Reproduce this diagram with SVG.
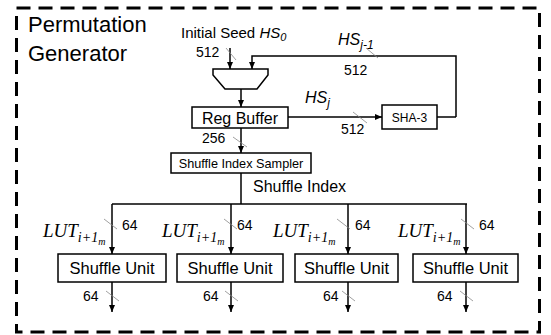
<svg xmlns="http://www.w3.org/2000/svg" width="551" height="335" viewBox="0 0 551 335">
<defs>
<marker id="ah" markerWidth="8" markerHeight="8" refX="7" refY="4" orient="auto" markerUnits="userSpaceOnUse">
<path d="M0,1 L7,4 L0,7 Z" fill="#000"/>
</marker>
<style>
.t{font-family:"Liberation Sans",Arial,sans-serif;fill:#000}
.box{fill:#fff;stroke:#000;stroke-width:1.5}
.w{fill:none;stroke:#000;stroke-width:1.5}
.a{fill:none;stroke:#000;stroke-width:1.5;marker-end:url(#ah)}
.tick{stroke:#888;stroke-width:0.8}
.m{font-family:"Liberation Serif","DejaVu Serif",serif;font-style:italic;fill:#000}
</style>
</defs>
<rect width="551" height="335" fill="#fff"/>
<rect x="16.5" y="8" width="523" height="324" fill="none" stroke="#000" stroke-width="3" stroke-dasharray="14 8"/>
<text class="t" x="28" y="32" font-size="22">Permutation</text>
<text class="t" x="28" y="61" font-size="22">Generator</text>

<g id="connectors">
<line class="a" x1="230" y1="48" x2="230" y2="69"/>
<polyline class="a" points="456,117 456,56 252,56 252,69"/>
<line class="w" x1="437" y1="117" x2="456" y2="117"/>
<line class="a" x1="241" y1="89" x2="241" y2="107"/>
<line class="a" x1="288" y1="117" x2="382" y2="117"/>
<line class="a" x1="241" y1="128" x2="241" y2="153"/>
<polyline class="w" points="241,173 241,204"/>
<line class="w" x1="112" y1="204" x2="467" y2="204"/>
<line class="a" x1="112" y1="204" x2="112" y2="254"/>
<line class="a" x1="231" y1="204" x2="231" y2="254"/>
<line class="a" x1="348" y1="204" x2="348" y2="254"/>
<line class="a" x1="466" y1="204" x2="466" y2="254"/>
<line class="a" x1="112" y1="282" x2="112" y2="312"/>
<line class="a" x1="231" y1="282" x2="231" y2="312"/>
<line class="a" x1="348" y1="282" x2="348" y2="312"/>
<line class="a" x1="466" y1="282" x2="466" y2="312"/>
<line class="tick" x1="226" y1="48" x2="236" y2="60"/>
<line class="tick" x1="366" y1="48" x2="378" y2="58"/>
<line class="tick" x1="353" y1="112" x2="367" y2="123"/>
<line class="tick" x1="233" y1="137" x2="247" y2="147"/>
<line class="tick" x1="104" y1="219" x2="117" y2="229"/>
<line class="tick" x1="224" y1="219" x2="237" y2="229"/>
<line class="tick" x1="337" y1="219" x2="350" y2="229"/>
<line class="tick" x1="461" y1="219" x2="474" y2="229"/>
<line class="tick" x1="106" y1="291" x2="119" y2="301"/>
<line class="tick" x1="225" y1="291" x2="238" y2="301"/>
<line class="tick" x1="342" y1="291" x2="355" y2="301"/>
<line class="tick" x1="460" y1="291" x2="473" y2="301"/>
</g>

<g id="labels">
<text class="t" x="181" y="38" font-size="15">Initial Seed <tspan font-style="italic">HS</tspan><tspan font-style="italic" font-size="11" dy="3">0</tspan></text>
<text class="t" x="196" y="57" font-size="14">512</text>
<text class="t" x="338" y="45" font-style="italic" font-size="16">HS<tspan font-size="12" dy="4">j-1</tspan></text>
<text class="t" x="344" y="75" font-size="14">512</text>
<text class="t" x="305" y="103" font-style="italic" font-size="16">HS<tspan font-size="12" dy="4">j</tspan></text>
<text class="t" x="341" y="134" font-size="14">512</text>
<text class="t" x="202" y="143" font-size="14">256</text>
<text class="t" x="253" y="192" font-size="16">Shuffle Index</text>
<text class="t" x="122" y="230" font-size="14">64</text>
<text class="t" x="237" y="230" font-size="14">64</text>
<text class="t" x="355" y="230" font-size="14">64</text>
<text class="t" x="479" y="230" font-size="14">64</text>
<text class="t" x="83" y="301" font-size="14">64</text>
<text class="t" x="203" y="301" font-size="14">64</text>
<text class="t" x="323" y="301" font-size="14">64</text>
<text class="t" x="437" y="301" font-size="14">64</text>
<text class="m" x="43" y="237" font-size="19">LUT<tspan font-size="14" dy="5">i+1</tspan><tspan font-size="10" dy="3">m</tspan></text>
<text class="m" x="162" y="237" font-size="19">LUT<tspan font-size="14" dy="5">i+1</tspan><tspan font-size="10" dy="3">m</tspan></text>
<text class="m" x="273" y="237" font-size="19">LUT<tspan font-size="14" dy="5">i+1</tspan><tspan font-size="10" dy="3">m</tspan></text>
<text class="m" x="398" y="237" font-size="19">LUT<tspan font-size="14" dy="5">i+1</tspan><tspan font-size="10" dy="3">m</tspan></text>
</g>

<g id="mux">
<path class="box" d="M213,69 L268,69 L268,75 L257,89 L225,89 L213,75 Z"/>
</g>
<g id="reg-buffer">
<rect class="box" x="192" y="107" width="96" height="21"/>
<text class="t" x="240" y="123.5" font-size="16" text-anchor="middle">Reg Buffer</text>
</g>
<g id="sha3">
<rect class="box" x="382" y="105" width="55" height="24"/>
<text class="t" x="409.5" y="122" font-size="12" text-anchor="middle">SHA-3</text>
</g>
<g id="sampler">
<rect class="box" x="171" y="153" width="140" height="20"/>
<text class="t" x="241" y="168" font-size="12.7" text-anchor="middle">Shuffle Index Sampler</text>
</g>
<g id="su1">
<rect class="box" x="58" y="254" width="108" height="28"/>
<text class="t" x="112" y="274" font-size="16.5" text-anchor="middle">Shuffle Unit</text>
</g>
<g id="su2">
<rect class="box" x="177" y="254" width="106" height="28"/>
<text class="t" x="230" y="274" font-size="16.5" text-anchor="middle">Shuffle Unit</text>
</g>
<g id="su3">
<rect class="box" x="295" y="254" width="103" height="28"/>
<text class="t" x="346.5" y="274" font-size="16.5" text-anchor="middle">Shuffle Unit</text>
</g>
<g id="su4">
<rect class="box" x="413" y="254" width="105" height="28"/>
<text class="t" x="465.5" y="274" font-size="16.5" text-anchor="middle">Shuffle Unit</text>
</g>
</svg>
